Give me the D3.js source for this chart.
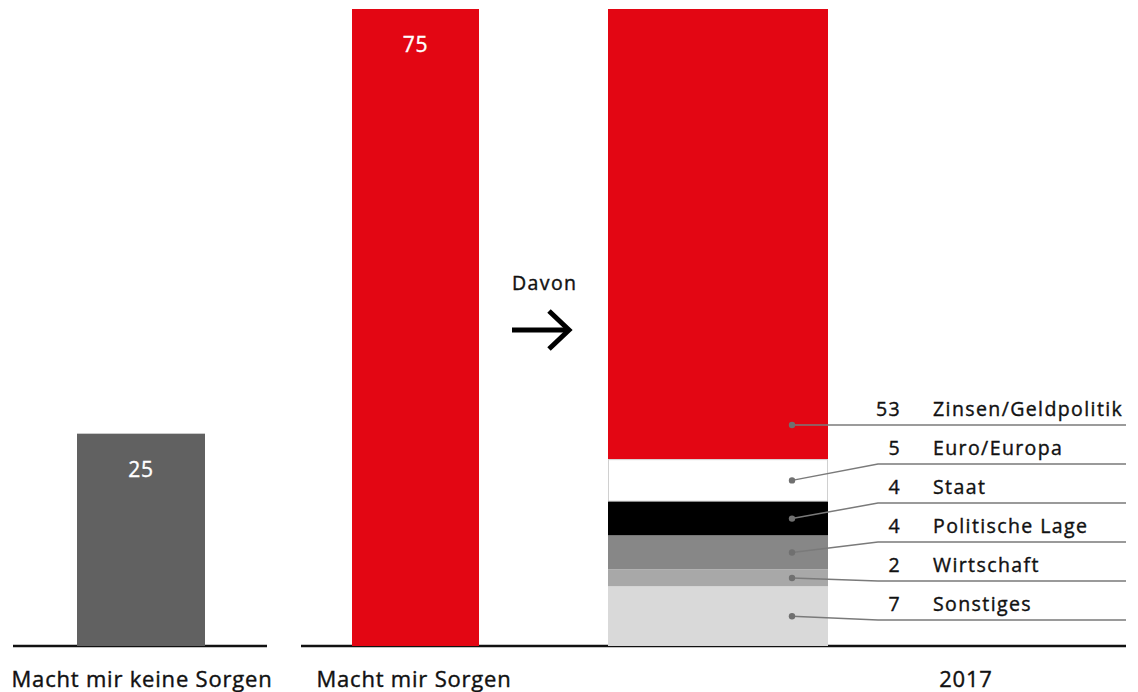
<!DOCTYPE html>
<html>
<head>
<meta charset="utf-8">
<script src="https://cdn.jsdelivr.net/npm/d3@7"></script>
<style>
  html, body { margin: 0; padding: 0; background: #fff; }
  svg { display: block; font-family: "Open Sans", "Noto Sans", sans-serif; }
  .t { stroke-width: 0.4px; paint-order: fill; }
</style>
</head>
<body>
<svg id="chart" width="1138" height="692"></svg>
<script>
// ---- data ----
const categories = ["Macht mir keine Sorgen", "Macht mir Sorgen", "2017"];
const mainValues = [25, 75];
const mainColors = ["#616161", "#e30613"];
const breakdownLabels = ["Zinsen/Geldpolitik", "Euro/Europa", "Staat", "Politische Lage", "Wirtschaft", "Sonstiges"];
const breakdownValues = [53, 5, 4, 4, 2, 7];
const breakdownColors = ["#e30613", "#ffffff", "#000000", "#878787", "#a8a8a8", "#d9d9d9"];
const arrowLabel = "Davon";

// ---- layout ----
const svg = d3.select("#chart");
const baseY = 646;
const y = d3.scaleLinear().domain([0, 75]).range([baseY, 9]);
const xCenter = d3.scaleOrdinal().domain(categories).range([141, 415.5, 718]);
const barWidth = d3.scaleOrdinal().domain(categories).range([128, 127, 220]);
const labelX = d3.scaleOrdinal().domain(categories).range([142, 414, 966]);
const textColor = "#111";

// baselines
svg.append("line").attr("x1", 13).attr("x2", 267).attr("y1", baseY).attr("y2", baseY)
  .attr("stroke", "#111").attr("stroke-width", 2.6);
svg.append("line").attr("x1", 301).attr("x2", 1126).attr("y1", baseY).attr("y2", baseY)
  .attr("stroke", "#111").attr("stroke-width", 2.6);

// main bars
const mainCats = categories.slice(0, 2);
mainCats.forEach((c, i) => {
  const w = barWidth(c);
  svg.append("rect")
    .attr("x", xCenter(c) - w / 2).attr("width", w)
    .attr("y", y(mainValues[i])).attr("height", baseY - y(mainValues[i]))
    .attr("fill", mainColors[i]);
  svg.append("text").attr("class", "t")
    .attr("x", xCenter(c)).attr("y", y(mainValues[i]) + 43)
    .attr("text-anchor", "middle").attr("fill", "#fff").attr("stroke", "#fff")
    .attr("font-size", 21).attr("letter-spacing", 0.8)
    .text(mainValues[i]);
});

// stacked breakdown bar (bottom -> top is reverse order)
const order = d3.range(breakdownValues.length).reverse();
let acc = 0;
const segs = [];
order.forEach(i => {
  segs[i] = { i, y0: acc, y1: acc + breakdownValues[i] };
  acc += breakdownValues[i];
});
const stackCat = categories[2];
const sw = barWidth(stackCat);
const sx = xCenter(stackCat) - sw / 2;
segs.forEach(s => {
  const r = svg.append("rect")
    .attr("x", sx).attr("width", sw)
    .attr("y", y(s.y1)).attr("height", y(s.y0) - y(s.y1))
    .attr("fill", breakdownColors[s.i]);
  if (breakdownColors[s.i] === "#ffffff") {
    r.attr("x", sx + 0.5).attr("width", sw - 1)
     .attr("y", y(s.y1) + 0.5).attr("height", y(s.y0) - y(s.y1) - 1)
     .attr("stroke", "#d0d0d0").attr("stroke-width", 1);
  }
});

// legend with leader lines
const legendTop = 425, legendStep = 39;
const dotX = 792, elbowX = 878, lineEnd = 1126;
segs.forEach(s => {
  const ly = legendTop + s.i * legendStep;
  const mid = (y(s.y0) + y(s.y1)) / 2;
  const dy = Math.abs(mid - ly) > 30 ? ly : mid;
  svg.append("polyline")
    .attr("points", `${dotX},${dy} ${elbowX},${ly} ${lineEnd},${ly}`)
    .attr("fill", "none").attr("stroke", "#7a7a7a").attr("stroke-width", 1.5);
  svg.append("circle").attr("cx", dotX).attr("cy", dy).attr("r", 3.2).attr("fill", "#707070");
  svg.append("text").attr("class", "t").attr("x", 901).attr("y", ly - 9)
    .attr("text-anchor", "end").attr("font-size", 19.5)
    .attr("letter-spacing", 1.4).attr("fill", textColor).attr("stroke", textColor)
    .text(breakdownValues[s.i]);
  svg.append("text").attr("class", "t").attr("x", 933).attr("y", ly - 9)
    .attr("font-size", 19.5).attr("letter-spacing", 1.4)
    .attr("fill", textColor).attr("stroke", textColor)
    .text(breakdownLabels[s.i]);
});

// arrow + "Davon"
svg.append("text").attr("class", "t").attr("x", 512).attr("y", 290).attr("font-size", 19.5)
  .attr("letter-spacing", 1.4).attr("fill", textColor).attr("stroke", textColor).text(arrowLabel);
svg.append("line").attr("x1", 512).attr("x2", 567).attr("y1", 330).attr("y2", 330)
  .attr("stroke", "#000").attr("stroke-width", 5);
svg.append("polyline").attr("points", "549,311 569,330 549,349")
  .attr("fill", "none").attr("stroke", "#000").attr("stroke-width", 5);

// category labels
categories.forEach(c => {
  svg.append("text").attr("class", "t").attr("x", labelX(c)).attr("y", 687)
    .attr("text-anchor", "middle").attr("font-size", 22)
    .attr("letter-spacing", 0.8).attr("fill", textColor).attr("stroke", textColor)
    .text(c);
});
</script>
</body>
</html>
